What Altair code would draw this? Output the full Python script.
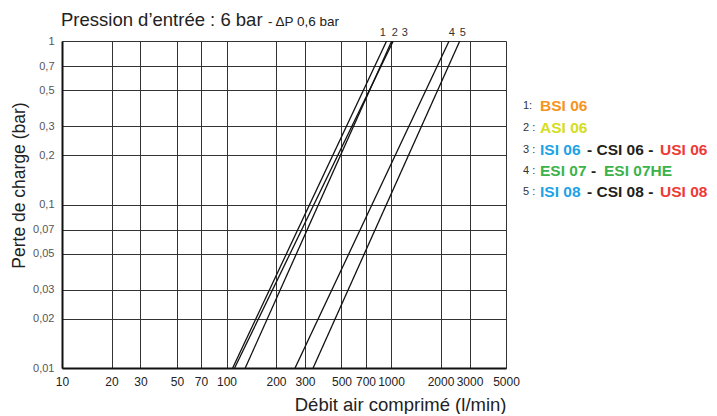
import altair as alt
import pandas as pd

# ---- data ----
line_ids = ["1", "2", "3", "4", "5"]
flow_at_001 = [109, 112, 130, 261, 336]      # l/min at 0.01 bar
flow_at_1 = [940, 1032, 1010, 2254, 2618]    # l/min at 1 bar
label_flow = [891, 1055, 1213, 2339, 2729]   # where the line numbers sit above the plot

x_ticks = [10, 20, 30, 50, 70, 100, 200, 300, 500, 700, 1000, 2000, 3000, 5000]
y_ticks = [0.01, 0.02, 0.03, 0.05, 0.07, 0.1, 0.2, 0.3, 0.5, 0.7, 1]

legend_nums = ["1:", "2 :", "3 :", "4 :", "5 :"]
legend_rows = [
    [("BSI 06", "orange")],
    [("ASI 06", "yellow")],
    [("ISI 06", "blue"), ("- CSI 06 -", "black"), ("USI 06", "red")],
    [("ESI 07", "green"), ("-", "black"), ("ESI 07HE", "green")],
    [("ISI 08", "blue"), ("- CSI 08 -", "black"), ("USI 08", "red")],
]

# ---- layout / styles ----
FONT = "Liberation Sans"
W, H = 444, 327
palette = {"orange": "#F7941D", "yellow": "#D4DD1E", "blue": "#1CA3E6",
           "black": "#231F20", "red": "#EE3A35", "green": "#3CB34A"}
seg_offsets = [[0], [0], [0, 47, 120], [0, 51, 64], [0, 47, 120]]
row_y = [65, 86.5, 108.5, 130, 150.5]
legend_x0 = 478
num_x = 461

rows = []
for lid, a, b in zip(line_ids, flow_at_001, flow_at_1):
    rows.append({"id": lid, "q": a, "p": 0.01})
    rows.append({"id": lid, "q": b, "p": 1.0})
lines_df = pd.DataFrame(rows)

xs = alt.Scale(type="log", domain=[10, 5000], nice=False)
ys = alt.Scale(type="log", domain=[0.01, 1], nice=False)

lines = alt.Chart(lines_df).mark_line(color="#111", strokeWidth=1.3, clip=True).encode(
    x=alt.X("q:Q", scale=xs, axis=alt.Axis(
        values=x_ticks, format="d", title="Débit air comprimé (l/min)",
        titleAnchor="end", titleAlign="right", titleX=W, titleY=42,
        titleBaseline="alphabetic", titleFontSize=18.5, titleFontWeight="normal",
        titleColor="#222", labelFontSize=12, labelColor="#222", labelPadding=8,
        labelFlush=False)),
    y=alt.Y("p:Q", scale=ys, axis=alt.Axis(
        values=y_ticks, labelExpr="replace(format(datum.value, '~g'), '.', ',')",
        title="Perte de charge (bar)", titleAngle=-90, titleX=-43, titleY=144,
        titleAlign="center", titleBaseline="middle", titleFontSize=17.5,
        titleFontWeight="normal", titleColor="#222",
        labelFontSize=11, labelColor="#555", labelPadding=8, labelFlush=False)),
    detail="id:N",
)

lab_df = pd.DataFrame({"id": line_ids, "q": label_flow})
line_labels = alt.Chart(lab_df).mark_text(
    font=FONT, fontSize=11, color="#333", baseline="alphabetic", align="center"
).encode(x=alt.X("q:Q", scale=xs), y=alt.value(-5), text="id:N")


def text_layer(txt, x, y, size, color, weight="normal", baseline="middle"):
    df = pd.DataFrame({"t": [txt]})
    return alt.Chart(df).mark_text(
        font=FONT, fontSize=size, fontWeight=weight, color=color,
        align="left", baseline=baseline
    ).encode(x=alt.value(x), y=alt.value(y), text="t:N")


layers = [lines, line_labels,
          text_layer("Pression d’entrée : 6 bar", -1, -15, 18.5, "#222", baseline="alphabetic"),
          text_layer("- ΔP 0,6 bar", 206, -15, 13.5, "#222", baseline="alphabetic")]

for i, (num, segs) in enumerate(zip(legend_nums, legend_rows)):
    layers.append(text_layer(num, num_x, row_y[i], 11, "#333"))
    for (txt, ck), off in zip(segs, seg_offsets[i]):
        layers.append(text_layer(txt, legend_x0 + off, row_y[i], 15.5, palette[ck], weight="bold"))

chart = alt.layer(*layers).properties(
    width=W, height=H,
    autosize=alt.AutoSizeParams(type="none"),
    padding={"left": 54, "top": 33, "right": 203, "bottom": 46},
).configure_axis(
    grid=True, gridColor="#333", gridWidth=1, gridOpacity=1,
    domainColor="#111", domainWidth=2, ticks=False, labelFont=FONT, titleFont=FONT,
).configure_view(strokeWidth=0)

chart.save("out.html", embed_options={"renderer": "svg", "actions": False})
